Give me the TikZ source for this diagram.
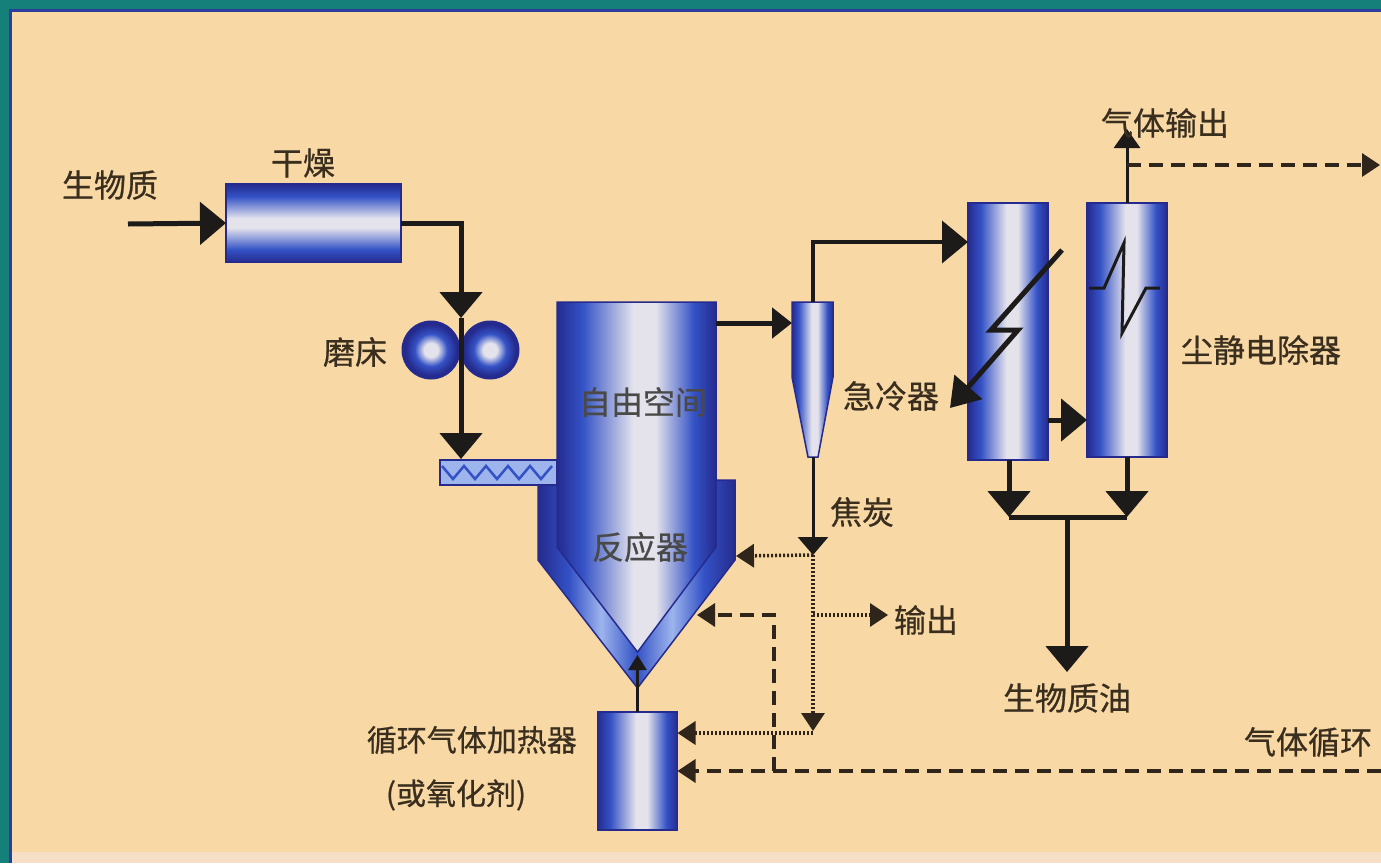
\documentclass[tikz,border=0pt]{standalone}
\usepackage{fontspec}
\newfontfamily\cjk[FakeBold=0.6]{Noto Sans CJK SC}
\usetikzlibrary{arrows.meta}

\definecolor{paper}{HTML}{F8D8A5}
\definecolor{paperlow}{HTML}{F7DEC6}
\definecolor{frameteal}{HTML}{15807A}
\definecolor{frameblue}{HTML}{2E3C9C}
\definecolor{navy}{HTML}{252B8E}
\definecolor{midblue}{HTML}{3452C6}
\definecolor{skyblue}{HTML}{9DB4EC}
\definecolor{glow}{HTML}{E4E3EC}
\definecolor{ink}{HTML}{1C1B1A}
\definecolor{brownink}{HTML}{30251A}
\definecolor{txt}{HTML}{3A2E1F}

% cylinder shadings: dark rim, bright core
\pgfdeclarehorizontalshading{colH}{100bp}{color(0bp)=(navy); color(25bp)=(navy); color(33bp)=(midblue); color(49bp)=(glow); color(56bp)=(glow); color(68bp)=(midblue); color(75bp)=(navy); color(100bp)=(navy)}
\pgfdeclareverticalshading{colV}{100bp}{color(0bp)=(navy); color(25bp)=(navy); color(33bp)=(midblue); color(47bp)=(glow); color(53bp)=(glow); color(67bp)=(midblue); color(75bp)=(navy); color(100bp)=(navy)}
\pgfdeclarehorizontalshading{jacketsh}{100bp}{color(0bp)=(navy); color(25bp)=(navy); color(33bp)=(midblue); color(41bp)=(skyblue); color(50bp)=(midblue); color(59bp)=(skyblue); color(67bp)=(midblue); color(75bp)=(navy); color(100bp)=(navy)}
\pgfdeclareradialshading{ballsh}{\pgfpoint{0bp}{0bp}}{color(0bp)=(glow); color(6bp)=(glow); color(14bp)=(midblue); color(22bp)=(navy); color(25bp)=(navy); color(50bp)=(navy)}

\begin{document}
\begin{tikzpicture}[x=1pt,y=-1pt,
  lbl/.style={text=txt, inner sep=0pt, font=\cjk\fontsize{32}{36}\selectfont},
  lblsm/.style={text=txt, inner sep=0pt, font=\cjk\fontsize{30}{34}\selectfont},
  vcyl/.style={shade, shading=colH, draw=navy, line width=1.5pt, inner sep=0pt, outer sep=0pt},
  hcyl/.style={shade, shading=colV, draw=navy, line width=1.5pt, inner sep=0pt, outer sep=0pt},
  roll/.style={circle, shade, shading=ballsh, draw=navy, line width=1pt, minimum size=58pt, inner sep=0pt},
  pipe/.style={draw=ink, line width=5pt},
  thinpipe/.style={draw=ink, line width=3pt},
  bigtip/.style={-{Triangle[length=26pt,width=42pt]}},
  midtip/.style={-{Triangle[length=20pt,width=30pt]}},
  smalltip/.style={-{Triangle[length=18pt,width=23pt]}},
  dashflow/.style={draw=brownink, line width=3.5pt, dash pattern=on 14pt off 8pt},
  dotflow/.style={draw=brownink, line width=3.5pt, dash pattern=on 2pt off 2pt}]

\useasboundingbox (0,0) rectangle (1381,863);

% frame and paper
\fill[paper] (0,0) rectangle (1381,863);
\fill[paperlow] (12,852) rectangle (1381,863);
\fill[frameteal] (0,0) rectangle (1381,9);
\fill[frameteal] (0,0) rectangle (9,863);
\draw[frameblue, line width=3pt] (10.5,863) -- (10.5,10.5) -- (1381,10.5);

% ---------- equipment ----------
\node[hcyl, minimum width=175pt, minimum height=78pt] (dryer) at (313.5,223) {};
\node[roll] (rollA) at (431,350) {};
\node[roll] (rollB) at (490,350) {};

% reactor: jacket with conical bottom, then the inner column
\shade[shading=jacketsh, draw=navy, line width=1.5pt]
  (538,480) -- (735,480) -- (735,560) -- (637.5,688) -- (538,560) -- cycle;
\shade[shading=colH, draw=navy, line width=1.5pt]
  (557,302) -- (716,302) -- (716,547) -- (637.5,652) -- (557,547) -- cycle;
\coordinate (rout) at (716,323);
\coordinate (rjacket) at (736,556);
\coordinate (rcone) at (697,615);
\coordinate (rapex) at (637.5,655);

% screw feeder
\node[draw=navy, line width=1.5pt, fill=skyblue, minimum width=117pt, minimum height=25pt, inner sep=0pt] (feeder) at (498.5,472.5) {};
\draw[midblue, line width=2.5pt]
  (442,466) -- (453,479) -- (464,466) -- (475,479) -- (486,466) -- (497,479)
  -- (508,466) -- (519,479) -- (530,466) -- (541,479) -- (552,466);

% cyclone
\shade[shading=colH, draw=navy, line width=1.5pt]
  (792,302) -- (833,302) -- (833,377) -- (818,457) -- (808,457) -- (792,377) -- cycle;
\coordinate (cycin) at (792,323);
\coordinate (cyctop) at (812.5,302);
\coordinate (cycbot) at (813,457);

% quencher, precipitator, heater
\node[vcyl, minimum width=80pt, minimum height=257pt] (quench) at (1008,331.5) {};
\node[vcyl, minimum width=80pt, minimum height=254pt] (esp) at (1127,330) {};
\node[vcyl, minimum width=80pt, minimum height=118pt] (heater) at (637.5,771) {};

% symbols inside quencher and precipitator
\coordinate (boltA) at (1062,250);
\coordinate (boltB) at (991,330);
\coordinate (boltC) at (1018,330);
\coordinate (boltD) at (950,408);
\draw[ink, line width=5pt, line join=miter, -{Triangle[length=28pt,width=36pt]}]
  (boltA) -- (boltB) -- (boltC) -- (boltD);
\draw[ink, line width=3pt, line join=miter]
  (1089,288) -- (1104,288) -- (1124,243) -- (1122,333) -- (1146,288) -- (1160,288);

% ---------- solid flows ----------
\coordinate (bioin) at (128,224);
\coordinate (millin) at (461,318);
\coordinate (feedin) at (461,459);
\draw[pipe, bigtip] (bioin) -- (dryer.west);
\draw[pipe, bigtip] (dryer.east) -| (millin);
\draw[pipe, bigtip] (millin) -- (feedin);
\draw[pipe, midtip] (rout) -- (cycin);
\coordinate (qin) at (968,242);
\draw[thinpipe, line width=4pt, bigtip] (cyctop) |- (qin);
\coordinate (qout) at (1048,420);
\coordinate (ein) at (1087,420);
\draw[pipe, bigtip] (qout) -- (ein);
\coordinate (gasout) at (1127,129);
\draw[thinpipe, -{Triangle[length=19pt,width=26pt]}] (esp.north) -- (gasout);
\coordinate (qdrop) at (1009,517);
\coordinate (edrop) at (1127,517);
\coordinate (oilsplit) at (1067,517);
\coordinate (oilout) at (1067,672);
\draw[pipe, bigtip] (quench.south -| qdrop) -- (qdrop);
\draw[pipe, bigtip] (esp.south) -- (edrop);
\draw[pipe] (qdrop) -- (edrop);
\draw[pipe, bigtip] (oilsplit) -- (oilout);
\draw[thinpipe, line width=2.5pt, -{Triangle[length=15pt,width=18pt]}] (heater.north) -- (rapex);

% char line and its dotted branches
\coordinate (charpt) at (813,555);
\coordinate (charmid) at (813,615);
\coordinate (charlow) at (813,731);
\coordinate (charheat) at (813,733);
\coordinate (charout) at (888,615);
\draw[thinpipe, -{Triangle[length=18pt,width=30pt]}] (cycbot) -- (charpt);
\draw[dotflow, smalltip] (charpt) -- (rjacket);
\draw[dotflow, smalltip] (charpt) -- (charlow);
\draw[dotflow, smalltip] (charmid) -- (charout);
\draw[dotflow, smalltip] (charheat) -- (heater.east |- charheat);

% dashed gas recycle
\coordinate (gastap) at (1127,165);
\coordinate (gasright) at (1380,165);
\coordinate (recyin) at (1381,771);
\coordinate (recyjoin) at (774,771);
\coordinate (recyturn) at (774,615);
\draw[dashflow, smalltip] (gastap) -- (gasright);
\draw[dashflow, smalltip] (recyin) -- (heater.east |- recyin);
\draw[dashflow, smalltip] (recyjoin) -- (recyturn) -- (rcone);

% ---------- labels ----------
\node[lbl] (tbio) at (110,185) {生物质};
\node[lbl] (tdry) at (303,163) {干燥};
\node[lbl] (tmill) at (355,352) {磨床};
\node[lbl, text=ink!80] (tfree) at (643,402) {自由空间};
\node[lbl, text=ink!80] (treac) at (640,547) {反应器};
\node[lbl] (tquench) at (891,396) {急冷器};
\node[lbl] (tesp) at (1261,350) {尘静电除器};
\node[lbl] (tgas) at (1165,123) {气体输出};
\node[lbl] (tchar) at (862,512) {焦炭};
\node[lbl] (tout) at (926,620) {输出};
\node[lbl] (toil) at (1067,698) {生物质油};
\node[lbl] (trecy) at (1308,742) {气体循环};
\node[lblsm, anchor=east] (theat) at (577,740) {循环气体加热器};
\node[lblsm] (tox) at (456,795) {(或氧化剂)};
\end{tikzpicture}
\end{document}
